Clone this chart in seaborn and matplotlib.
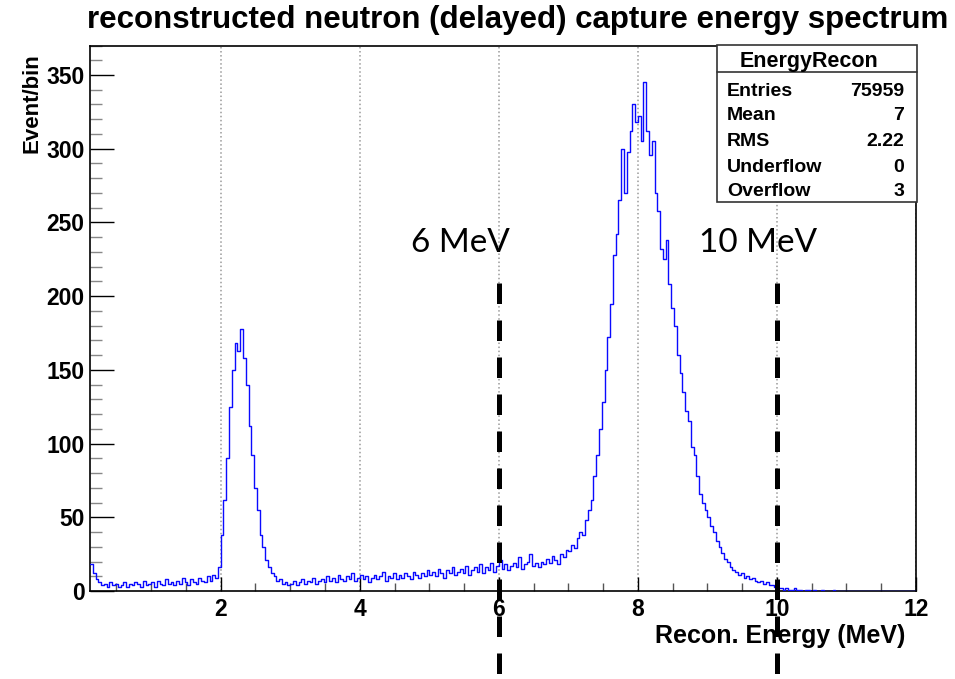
import numpy as np
import pandas as pd
import matplotlib
matplotlib.use('Agg')
import matplotlib.pyplot as plt
import seaborn as sns
from matplotlib.patches import Rectangle
from matplotlib.lines import Line2D
from matplotlib.ticker import MultipleLocator

# histogram, 0.04 MeV bins starting at 0.12 MeV
bin_width = 0.04
e_start = 0.12
e_stop = 12.0

# 0.12 - 2.00 MeV
low_counts = [18, 12, 8, 6, 4, 5, 3, 6, 4, 5,
              3, 4, 6, 3, 5, 4, 6, 5, 3, 7,
              4, 5, 6, 3, 7, 5, 4, 8, 5, 6,
              4, 7, 5, 9, 6, 4, 8, 6, 5, 9,
              7, 6, 10, 7, 11, 9, 16]
# 2.00 - 3.00 MeV (2.2 MeV capture peak)
peak1_counts = [38, 62, 90, 125, 150, 168, 163, 178, 158, 140,
                112, 92, 70, 55, 38, 30, 21, 16, 12, 10,
                7, 8, 5, 6, 4]
# 3.00 - 7.00 MeV
mid_counts = [5, 7, 4, 6, 8, 5, 7, 6, 9, 5,
              7, 8, 6, 10, 7, 9, 6, 11, 8, 7,
              10, 8, 12, 7, 9, 11, 8, 10, 6, 9,
              11, 8, 10, 13, 7, 10, 9, 12, 8, 11,
              9, 12, 10, 8, 13, 11, 9, 12, 10, 14,
              11, 13, 10, 15, 12, 9, 14, 12, 16, 11,
              13, 15, 12, 17, 11, 14, 16, 13, 18, 12,
              16, 14, 19, 13, 17, 21, 15, 18, 14, 17,
              19, 16, 23, 15, 18, 20, 25, 17, 19, 16,
              20, 18, 22, 19, 24, 21, 18, 25, 23, 28]
# 7.00 - 9.40 MeV (8 MeV Gd capture peak)
peak2_counts = [27, 31, 29, 36, 40, 38, 48, 55, 62, 78,
                92, 110, 128, 150, 172, 195, 228, 242, 265, 300,
                270, 298, 312, 330, 318, 322, 305, 345, 312, 296,
                305, 270, 258, 232, 225, 238, 208, 192, 180, 160,
                148, 135, 122, 115, 98, 92, 78, 66, 60, 55,
                50, 44, 40, 34, 30, 26, 22, 20, 16, 14]
# 9.40 - 12.00 MeV
tail_counts = [13, 11, 12, 9, 10, 8, 9, 7, 6, 7,
               5, 6, 4, 4, 3, 2, 2, 1, 2, 1,
               1, 2, 1, 1, 0, 1, 1, 0, 1, 0,
               0, 1, 0, 0, 0, 1, 0, 0, 0, 0,
               0, 0, 0, 0, 0, 0, 0, 0, 0, 0,
               0, 0, 0, 0, 0, 0, 0, 0, 0, 0,
               0, 0, 0, 0, 0]

stat_names = ['Entries', 'Mean', 'RMS', 'Underflow', 'Overflow']
stat_values = ['75959', '7', '2.22', '0', '3']
cut_energies = [6, 10]
cut_labels = ['6 MeV', '10 MeV']
label_x = [5.45, 9.73]

counts = low_counts + peak1_counts + mid_counts + peak2_counts + tail_counts
centers = e_start + bin_width * (np.arange(len(counts)) + 0.5)
df = pd.DataFrame({'energy': centers, 'n': counts})

sns.set_style('ticks')
plt.rcParams['font.family'] = ['Liberation Sans', 'DejaVu Sans']
plt.rcParams['font.weight'] = 'bold'
plt.rcParams['text.color'] = 'black'
plt.rcParams['axes.labelcolor'] = 'black'
plt.rcParams['xtick.color'] = 'black'
plt.rcParams['ytick.color'] = 'black'

W, H = 955, 679
fig = plt.figure(figsize=(W / 100, H / 100), dpi=100)
ax = fig.add_axes([90 / W, 1 - 591 / H, (916 - 90) / W, (591 - 45.5) / H])

sns.histplot(data=df, x='energy', weights='n', binwidth=bin_width, binrange=(e_start, e_stop),
             element='step', fill=False, color='#0a0aff', linewidth=1.0, ax=ax, zorder=3)

ax.set_xlim(e_start, e_stop)
ax.set_ylim(0, 370)
ax.xaxis.set_major_locator(MultipleLocator(2))
ax.xaxis.set_minor_locator(MultipleLocator(0.5))
ax.yaxis.set_major_locator(MultipleLocator(50))
ax.yaxis.set_minor_locator(MultipleLocator(10))
ax.tick_params(axis='x', which='major', direction='in', length=10, width=1, labelsize=16.5, pad=5,
               bottom=True, top=False)
ax.tick_params(axis='x', which='minor', direction='in', length=6, width=1, color='#555555',
               bottom=True, top=False)
ax.tick_params(axis='y', which='major', direction='in', length=17, width=1, labelsize=16.5, pad=4,
               left=True, right=False)
ax.tick_params(axis='y', which='minor', direction='in', length=8.5, width=1, color='#888888',
               left=True, right=False)
ax.grid(axis='x', which='major', linestyle=':', color='#9a9a9a', linewidth=1.1)
ax.set_axisbelow(True)
for sp in ax.spines.values():
    sp.set_visible(True)
    sp.set_color('black')
    sp.set_linewidth(1.2)

ax.set_xlabel('Recon. Energy (MeV)', fontsize=18, fontweight='bold', loc='right')
ax.xaxis.set_label_coords(0.987, -0.060)
ax.set_ylabel('Event/bin', fontsize=16, fontweight='bold', loc='top')
ax.yaxis.set_label_coords(-0.058, 0.985)

# cut lines and labels
for e, lab, lx in zip(cut_energies, cut_labels, label_x):
    ax.plot([e, e], [209, -61], color='black', lw=3.6, dashes=(4.1, 3.3), clip_on=False, zorder=6)
    ax.text(lx, 236, lab, ha='center', va='center', fontsize=24, fontweight='normal',
            family=['Lato', 'DejaVu Sans'], color='black')

fig.text(518 / W, 1 - 20 / H, 'reconstructed neutron (delayed) capture energy spectrum',
         ha='center', va='center', fontsize=22.5, fontweight='bold')

# stats box
bx0, bx1, by0, by1 = 717, 917, 45, 202
fig.add_artist(Rectangle((bx0 / W, 1 - by1 / H), (bx1 - bx0) / W, (by1 - by0) / H,
                         transform=fig.transFigure, facecolor='white', edgecolor='#333333',
                         lw=1.2, zorder=10))
fig.add_artist(Line2D([bx0 / W, bx1 / W], [1 - 72 / H, 1 - 72 / H], transform=fig.transFigure,
                      color='#333333', lw=1.2, zorder=11))
fig.text(809 / W, 1 - 62 / H, 'EnergyRecon', ha='center', va='center', fontsize=15.5, zorder=12)
row_y = [91, 116, 141, 167, 192]
for name, val, ry in zip(stat_names, stat_values, row_y):
    fig.text(727 / W, 1 - ry / H, name, ha='left', va='center', fontsize=14, zorder=12)
    fig.text(904 / W, 1 - ry / H, val, ha='right', va='center', fontsize=14, zorder=12)

fig.savefig('out.png', dpi=100)
